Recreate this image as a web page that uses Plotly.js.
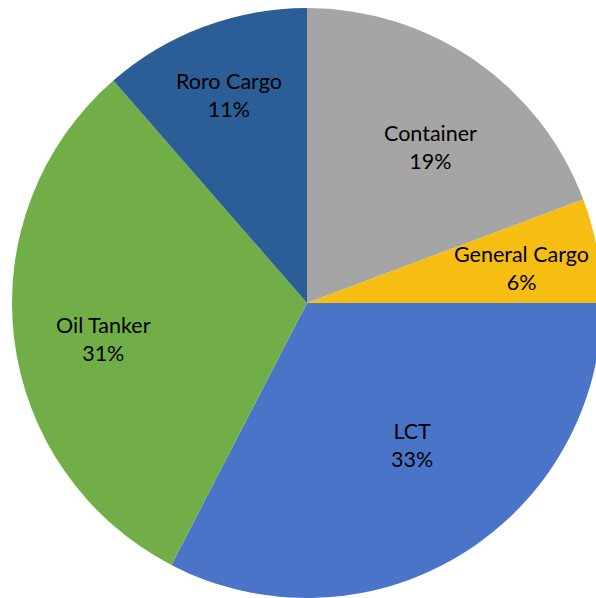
<!DOCTYPE html>
<html>
<head>
<meta charset="utf-8">
<script src="https://cdn.plot.ly/plotly-3.0.1.min.js"></script>
<style>
html, body { margin: 0; padding: 0; overflow: hidden; background: #ffffff; }
#chart { width: 614px; height: 599px; }
</style>
</head>
<body>
<div id="chart"></div>
<script>
// Data
const categories = ["Container", "General Cargo", "LCT", "Oil Tanker", "Roro Cargo"];
const shares = [19.3, 5.7, 32.6, 31.0, 11.4];

// Styles
const sliceColors = ["#a5a5a5", "#f6bd12", "#4a74c8", "#71ae48", "#2b5e96"];
// label placement inside each slice: radial fraction of the radius, angular nudge (deg) from the bisector
const labelRadius = [0.668, 0.734, 0.604, 0.703, 0.747];
const labelNudge = [3.9, 1.5, -4.8, -3.7, -0.2];
const labelFont = { family: "Lato, 'Open Sans', sans-serif", size: 21.5, color: "#000000" };

const total = shares.reduce((a, b) => a + b, 0);
const annotations = [];
let cum = 0;
shares.forEach((v, i) => {
  const mid = (cum + v / 2) / total * 360 + labelNudge[i];
  cum += v;
  const th = mid * Math.PI / 180;
  const pct = Math.round(v / total * 100);
  annotations.push({
    xref: "paper", yref: "paper",
    x: 0.5 + 0.5 * labelRadius[i] * Math.sin(th),
    y: 0.5 + 0.5 * labelRadius[i] * Math.cos(th),
    xanchor: "center", yanchor: "middle",
    yshift: 2,
    text: categories[i] + "<br>" + pct + "%",
    showarrow: false,
    font: labelFont,
    align: "center"
  });
});

const trace = {
  type: "pie",
  labels: categories,
  values: shares,
  sort: false,
  direction: "clockwise",
  rotation: 0,
  marker: { colors: sliceColors, line: { color: "#ffffff", width: 0 } },
  textinfo: "none",
  hoverinfo: "label+percent",
  showlegend: false
};

const layout = {
  width: 614,
  height: 599,
  margin: { l: 12, r: 12, t: 8, b: 1, pad: 0 },
  paper_bgcolor: "#ffffff",
  showlegend: false,
  annotations: annotations
};

Plotly.newPlot("chart", [trace], layout, { staticPlot: true, displayModeBar: false });
</script>
</body>
</html>
